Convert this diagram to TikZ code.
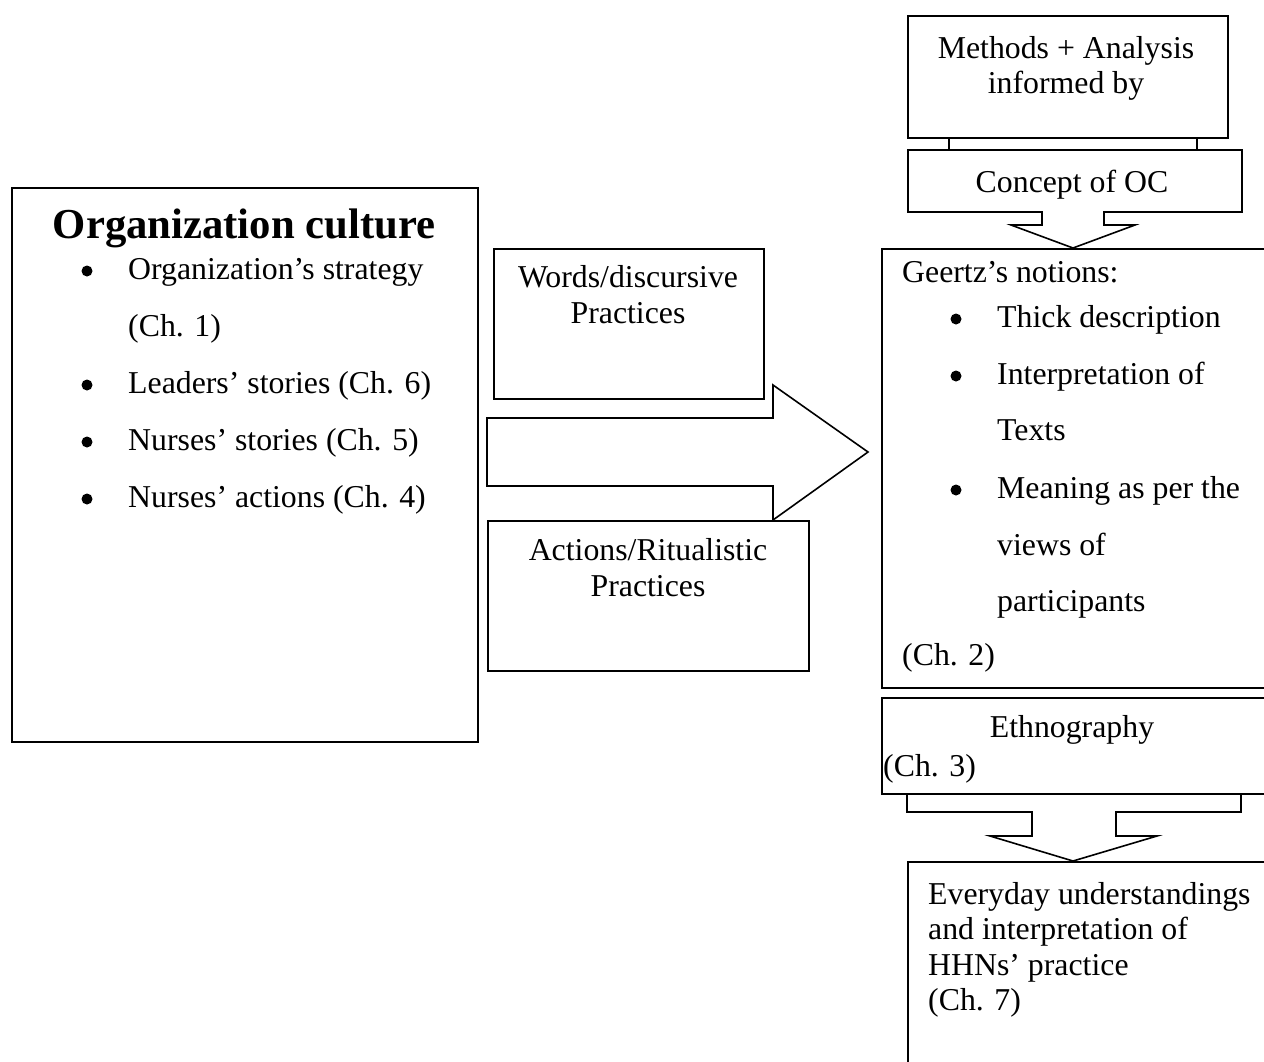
\documentclass[tikz,border=0pt]{standalone}
\usepackage{fontspec}
\setmainfont{Liberation Serif}
\begin{document}
\begin{tikzpicture}[x=1pt,y=-1pt,
  box/.style={draw=black,line width=1.6pt,fill=white,rectangle,inner sep=0pt,anchor=north west},
  blockarrow/.style={draw=black,line width=1.6pt,fill=white,line join=miter},
  txt/.style={inner sep=0pt,font=\fontsize{31.8}{36}\selectfont},
  ttl/.style={inner sep=0pt,font=\fontsize{42.7}{48}\selectfont\bfseries},
  bul/.style={circle,fill=black,inner sep=0pt,minimum size=11pt}]
\useasboundingbox (0,0) rectangle (1264,1061);
\clip (0,0) rectangle (1264,1061);
\fill[white] (0,0) rectangle (1264,1061);

% boxes
\node[box,minimum width=466pt,minimum height=554pt] (oc) at (11,187) {};
\node[box,minimum width=270pt,minimum height=150pt] (words) at (493,248) {};
\node[box,minimum width=321pt,minimum height=150pt] (actions) at (487,520) {};
\node[box,minimum width=320pt,minimum height=122pt] (methods) at (907,15) {};
\node[box,minimum width=334pt,minimum height=62pt] (concept) at (907,149) {};
\node[box,minimum width=400pt,minimum height=439pt] (geertz) at (881,248) {};
\node[box,minimum width=400pt,minimum height=96pt] (ethno) at (881,697) {};
\node[box,minimum width=400pt,minimum height=220pt] (everyday) at (907,861) {};

% connectors between Methods and Concept
\draw[line width=1.6pt] (methods.south west) ++(42,0) coordinate (m1) -- (m1 |- concept.north);
\draw[line width=1.6pt] (methods.south west) ++(290,0) coordinate (m2) -- (m2 |- concept.north);

% big right arrow
\coordinate (bigtip) at ([xshift=-13pt]geertz.west |- 0,452);
\draw[blockarrow] (487,418) -- (773,418) -- (773,385) -- (bigtip) -- (773,520) -- (773,486) -- (487,486) -- cycle;

% down arrow Concept -> Geertz
\coordinate (tip1) at (1073,248);
\draw[blockarrow] (1042,211) -- (1042,225) -- (1011,225) -- (tip1) -- (1135,225) -- (1104,225) -- (1104,211);

% bracket arrow Ethnography -> Everyday
\coordinate (tip2) at (1073,861);
\draw[blockarrow,fill=none] (907,793) -- (907,812) -- (1032,812) -- (1032,836) -- (990,836) -- (tip2) -- (1157,836) -- (1116,836) -- (1116,812) -- (1241,812) -- (1241,793);

% Organization culture texts
\node[ttl,anchor=base] (octitle) at (244,238) {Organization culture};
\foreach \n/\y/\t in {a/279/Organization’s strategy, c/393/Leaders’ stories (Ch. 6), d/450/Nurses’ stories (Ch. 5), e/507/Nurses’ actions (Ch. 4)}{
  \node[bul] (ocb\n) at (87,\y-8) {};
  \node[txt,anchor=base west] (oct\n) at (128,\y) {\t};
}
\node[txt,anchor=base west] (octb) at (128,336) {(Ch. 1)};

% Words / Actions
\node[txt,anchor=base] (w1) at (628,287) {Words/discursive};
\node[txt,anchor=base] (w2) at (628,323) {Practices};
\node[txt,anchor=base] (a1) at (648,560) {Actions/Ritualistic};
\node[txt,anchor=base] (a2) at (648,596) {Practices};

% Methods / Concept
\node[txt,anchor=base] (mt1) at (1066,58) {Methods + Analysis};
\node[txt,anchor=base] (mt2) at (1066,93) {informed by};
\node[txt,anchor=base] (ct) at (1072,192) {Concept of OC};

% Geertz
\node[txt,anchor=base west] (g0) at (902,282) {Geertz’s notions:};
\foreach \n/\y in {a/327, b/384, d/498}{
  \node[bul] (gb\n) at (956,\y-8) {};
}
\foreach \n/\y/\t in {a/327/Thick description, b/384/Interpretation of, c/440/Texts, d/498/Meaning as per the, e/555/views of, f/611/participants}{
  \node[txt,anchor=base west] (gt\n) at (997,\y) {\t};
}
\node[txt,anchor=base west] (g2) at (902,665) {(Ch. 2)};

% Ethnography
\node[txt,anchor=base] (et1) at (1072,737) {Ethnography};
\node[txt,anchor=base west] (et2) at (883,776) {(Ch. 3)};

% Everyday
\foreach \n/\y/\t in {a/904/Everyday understandings, b/939/and interpretation of, c/975/HHNs’ practice, d/1010/(Ch. 7)}{
  \node[txt,anchor=base west] (ev\n) at (928,\y) {\t};
}
\end{tikzpicture}
\end{document}
